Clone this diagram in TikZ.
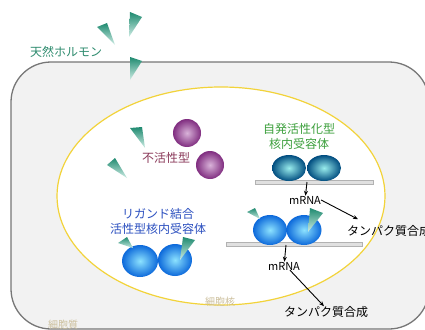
\documentclass[tikz,border=0pt]{standalone}
\usepackage{fontspec}
\newfontfamily\jp{Noto Sans CJK JP}
\usepackage{tikz}
\usetikzlibrary{calc,arrows.meta}

\definecolor{cellfill}{HTML}{F2F2F2}
\definecolor{cellline}{HTML}{777777}
\definecolor{nucline}{HTML}{F2D33A}
\definecolor{hormone}{HTML}{2E8B6E}
\definecolor{inactive}{HTML}{8B3A5A}
\definecolor{selfact}{HTML}{3DA03D}
\definecolor{ligbound}{HTML}{2C50C0}
\definecolor{faint}{HTML}{CCBF9C}
\definecolor{ligdark}{HTML}{1F8A70}
\definecolor{liglight}{HTML}{CFEDE5}

\begin{document}
\begin{tikzpicture}[x=1pt, y=-1pt, >=Stealth,
    txt/.style={font=\jp\fontsize{12pt}{15pt}\selectfont, inner sep=0pt, align=center},
    small/.style={font=\jp\fontsize{10pt}{12pt}\selectfont, inner sep=0pt, text=faint},
    mrna/.style={font=\jp\fontsize{11pt}{13pt}\selectfont, inner sep=0pt},
    ligand/.style={top color=ligdark, bottom color=liglight},
    dna/.style={draw=black!30, fill=black!12, line width=0.6pt},
    arr/.style={->, line width=0.9pt, -{Stealth[length=5pt,width=4pt]}},
    purpleball/.style={inner color=violet!30!white, outer color=violet!65!gray},
    tealball/.style={inner color=teal!35!cyan!40!white, outer color=teal!75!blue!80!black},
    blueball/.style={inner color=blue!25!cyan!45!white, outer color=blue!55!cyan!85!black!95}]
    \useasboundingbox (0,0) rectangle (425,329);

    % Cell and nucleus
    \draw[cellline, fill=cellfill, line width=1.3pt, rounded corners=40pt]
        (11,62) rectangle (429,329);
    \draw[nucline, fill=white, line width=1.2pt] (221,196) ellipse [x radius=164pt, y radius=109pt];

    % Hormone outside the cell
    \shade[ligand] (130,12) -- (142,17) -- (129,37) -- cycle;
    \shade[ligand] (97,27) -- (107,23) -- (115,45) -- cycle;
    \shade[ligand] (130,57) -- (142,61) -- (130,80) -- cycle;
    \node[txt, text=hormone] (horm) at (66,52) {天然ホルモン};

    % Inactive receptor
    \shade[purpleball] (187,133) circle (14pt);
    \shade[purpleball] (210,165) circle (14pt);
    \shade[ligand] (130,128) -- (142,127) -- (145,148) -- cycle;
    \shade[ligand] (107,165) -- (115,158) -- (127,178) -- cycle;
    \node[txt, text=inactive] (inact) at (166,158) {不活性型};

    % Constitutively active receptor on DNA
    \node[txt, text=selfact] (self) at (299,136.5) {自発活性化型\\核内受容体};
    \draw[dna] (255,180) rectangle (373,184.5);
    \shade[tealball] (289,168) ellipse [x radius=17pt, y radius=13pt];
    \shade[tealball] (324,168) ellipse [x radius=17pt, y radius=13pt];
    \coordinate (dna1) at (307,182);
    \node[mrna] (m1) at (305,200) {mRNA};
    \node[txt, anchor=west] (p1) at (347,231) {タンパク質合成};
    \draw[arr] (dna1) -- (m1);
    \draw[arr] (m1.east) -- ([shift={(11pt,6pt)}]p1.north west);

    % Ligand-bound receptor on DNA
    \draw[dna] (226,242) rectangle (362,246.5);
    \shade[blueball] (270,230) ellipse [x radius=17pt, y radius=15pt];
    \shade[blueball] (304,230) ellipse [x radius=17.5pt, y radius=15pt];
    \shade[ligand] (247,212) -- (255,208) -- (260,219) -- cycle;
    \shade[ligand] (310,208) -- (323,213) -- (308,232) -- cycle;
    \coordinate (dna2) at (286,245);
    \node[mrna] (m2) at (284,266) {mRNA};
    \node[txt] (p2) at (326,312) {タンパク質合成};
    \draw[arr] (dna2) -- (m2);
    \draw[arr] ([xshift=6pt]m2.south) -- ([xshift=-2pt]p2.north);

    % Ligand-bound receptor in the nucleus
    \node[txt, text=ligbound] (bound) at (158,221.5) {リガンド結合\\活性型核内受容体};
    \shade[blueball] (140,261) ellipse [x radius=18pt, y radius=16pt];
    \shade[blueball] (175,260) ellipse [x radius=17pt, y radius=16pt];
    \shade[ligand] (118,243) -- (127,237) -- (133,248) -- cycle;
    \shade[ligand] (183,237) -- (195,240) -- (180,260) -- cycle;

    % Compartment labels
    \node[small] (nuc) at (220,302) {細胞核};
    \node[small] (cyto) at (63,325) {細胞質};
\end{tikzpicture}
\end{document}
